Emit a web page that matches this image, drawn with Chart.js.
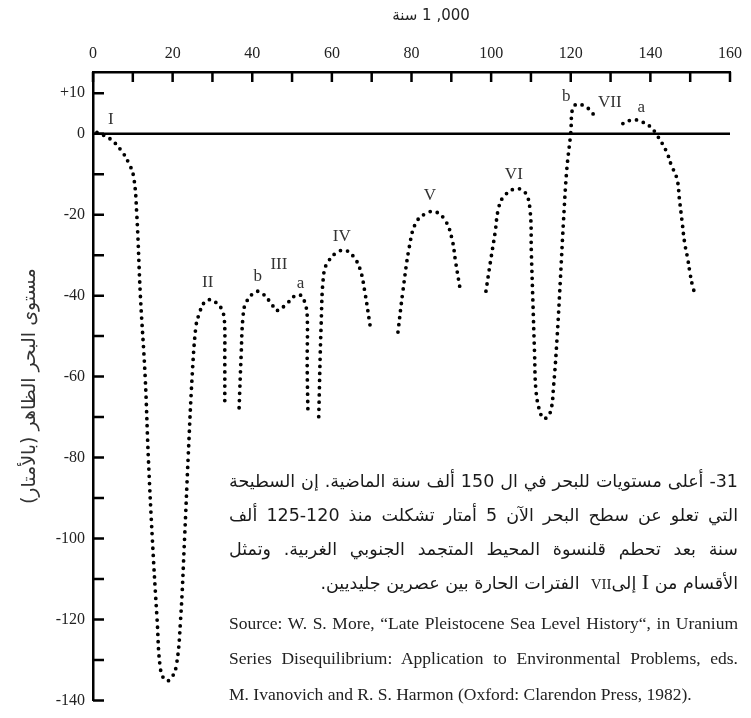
<!DOCTYPE html>
<html>
<head>
<meta charset="utf-8">
<script src="https://cdn.jsdelivr.net/npm/chart.js@4.4.0/dist/chart.umd.min.js"></script>
<style>
  body { margin: 0; background: #fff; }
  #wrap { position: relative; width: 751px; height: 718px; }
  canvas { position: absolute; left: 0; top: 0; }
  .ar { position: absolute; left: 229px; width: 509px; direction: rtl; white-space: nowrap;
        font: 17.5px "DejaVu Sans"; line-height: 22px; color: #1a1a1a; }
  .just { text-align: justify; text-align-last: justify; }
  .en { position: absolute; left: 229px; width: 509px; white-space: nowrap;
        font: 17.5px "Liberation Serif"; line-height: 20px; color: #222; }
  .serif { font-family: "Liberation Serif"; }
  #xtitle { position: absolute; left: 431px; top: 5px; transform: translateX(-50%);
            font: 15px "DejaVu Sans"; line-height: 20px; color: #222; white-space: nowrap; }
</style>
</head>
<body>
<div id="wrap">
  <canvas id="chart" width="751" height="718"></canvas>
  <div id="xtitle"><bdi>سنة</bdi> 1 ,000</div>
  <div class="ar just" style="top:470px">31- أعلى مستويات للبحر في ال 150 ألف سنة الماضية. إن السطيحة</div>
  <div class="ar just" style="top:504px">التي تعلو عن سطح البحر الآن 5 أمتار تشكلت منذ 120-125 ألف</div>
  <div class="ar just" style="top:538px">سنة بعد تحطم قلنسوة المحيط المتجمد الجنوبي الغربية. وتمثل</div>
  <div class="ar" style="top:571px">الأقسام من <span class="serif" style="font-size:22px">I</span> إلى<span class="serif" style="font-size:15px">VII</span>&nbsp; الفترات الحارة بين عصرين جليديين.</div>
  <div class="en just" style="top:613px">Source: W. S. More, “Late Pleistocene Sea Level History“, in Uranium</div>
  <div class="en just" style="top:648px">Series Disequilibrium: Application to Environmental Problems, eds.</div>
  <div class="en" style="top:684px">M. Ivanovich and R. S. Harmon (Oxford: Clarendon Press, 1982).</div>
</div>
<script>
// ticks that carry a label
const xTickLabels = [0, 20, 40, 60, 80, 100, 120, 140, 160];
const yTickLabels = [10, 0, -20, -40, -60, -80, -100, -120, -140];

// dotted curve pieces, [thousand years ago, metres]
const segI_II = [[1, 0.3], [4.2, -1.2], [6.9, -3.9], [8.9, -7.1], [10.2, -10.6], [11.0, -20],
  [11.9, -40], [13.1, -60], [13.9, -80], [14.9, -100], [16.1, -120], [17.0, -132.6],
  [18.3, -135.1], [19.5, -134.7], [20.9, -131.6], [22.0, -120], [23.0, -100], [23.9, -80],
  [24.9, -60], [25.8, -48], [26.5, -45], [28, -41.6], [29.5, -41], [31, -41.8],
  [32.3, -43.3], [33, -46], [33.1, -55], [33.1, -67.4]];
const segIII = [[36.7, -67.7], [37.2, -55], [37.7, -45], [38.5, -41.6], [41.0, -39], [42.7, -39.6],
  [44.9, -42.1], [46.1, -43.7], [48.9, -41.8], [50.1, -40.4], [52.2, -39.9], [53.2, -41.7],
  [53.8, -44.9], [53.8, -57.2], [54.0, -69.5]];
const segIV = [[56.7, -69.9], [57.3, -47.4], [58.0, -34.3], [59.2, -31.4], [61.3, -29.3], [63.4, -28.8],
  [65.4, -30.3], [67.1, -33.5], [68.3, -39.2], [69.6, -47.4]];
const segV = [[76.6, -49.0], [77.8, -39.2], [79.5, -27.7], [81.1, -22.0], [83.6, -19.7], [86.1, -19.3],
  [88.6, -21.6], [90.2, -26.1], [91.1, -31.8], [92.1, -37.7]];
const segVI_VII = [[98.7, -38.9], [99.8, -31.8], [101.0, -24.4], [101.8, -18.7], [103.1, -15.6],
  [106.1, -13.6], [108.6, -14.6], [109.8, -19.1], [110.1, -29.3], [110.5, -41.7], [110.9, -53.9],
  [111.3, -63.8], [112.4, -69.1], [113.4, -70.4], [114.9, -68.7], [115.7, -62.2], [116.6, -49.9],
  [117.4, -35.9], [118.2, -21.2], [119.0, -8.9], [120.0, 0.2], [120.5, 6.4], [121.7, 7.3],
  [123.3, 6.9], [125.0, 5.7], [126.1, 4.1]];
const segVIIa = [[133.1, 2.5], [134.9, 3.3], [136.6, 3.4], [138.2, 2.8], [139.9, 1.8], [141.3, 0.2],
  [144.0, -4.3], [145.2, -7.6], [146.7, -11.2], [147.3, -16.2], [148.0, -22], [148.6, -26.9],
  [149.4, -31], [150.0, -34.7], [150.6, -37.6], [151.4, -40.2]];
const zeroLineX = [0, 160];

// stage names and where they sit
const stageLabels = ['I', 'II', 'b', 'III', 'a', 'IV', 'V', 'VI', 'b', 'VII', 'a'];
const stageX = [4.5, 28.8, 41.4, 46.7, 52.1, 62.5, 84.6, 105.7, 118.9, 129.8, 137.7];
const stageY = [3.4, -36.7, -35.2, -32.2, -36.9, -25.3, -15.3, -10.1, 9.1, 7.6, 6.4];

const segments = [segI_II, segIII, segIV, segV, segVI_VII, segVIIa];
const datasets = segments.map(seg => ({
  data: seg.map(p => ({x: p[0], y: p[1]})),
  showLine: true,
  borderColor: '#000',
  borderWidth: 3.8,
  borderDash: [0, 7.2],
  borderCapStyle: 'round',
  pointRadius: 0,
  tension: 0.4
}));
datasets.push({
  data: zeroLineX.map(x => ({x, y: 0})),
  showLine: true,
  borderColor: '#000',
  borderWidth: 2.5,
  pointRadius: 0,
  tension: 0
});

const innerTicks = {
  id: 'innerTicks',
  afterDatasetsDraw(chart) {
    const {ctx, chartArea, scales: {x, y}} = chart;
    ctx.save();
    ctx.strokeStyle = '#000';
    ctx.lineWidth = 2.5;
    ctx.beginPath();
    x.ticks.forEach(t => {
      if (Math.round(t.value) % 10 !== 0) return;
      const px = x.getPixelForValue(t.value);
      ctx.moveTo(px, chartArea.top);
      ctx.lineTo(px, chartArea.top + 10);
    });
    y.ticks.forEach(t => {
      if (Math.round(t.value) % 10 !== 0) return;
      const py = y.getPixelForValue(t.value);
      ctx.moveTo(chartArea.left, py);
      ctx.lineTo(chartArea.left + 11, py);
    });
    ctx.stroke();

    ctx.fillStyle = '#333';
    ctx.font = '17px "Liberation Serif"';
    ctx.textAlign = 'center';
    ctx.textBaseline = 'middle';
    stageLabels.forEach((txt, i) => {
      ctx.fillText(txt, x.getPixelForValue(stageX[i]), y.getPixelForValue(stageY[i]));
    });
    ctx.restore();
  }
};

new Chart(document.getElementById('chart'), {
  type: 'scatter',
  data: { datasets },
  options: {
    responsive: false,
    animation: false,
    layout: { padding: { left: 0, top: 0, right: 13, bottom: 15 } },
    plugins: { legend: { display: false }, tooltip: { enabled: false } },
    scales: {
      x: {
        type: 'linear',
        position: 'top',
        min: 0,
        max: 160,
        grid: { display: false, drawTicks: false },
        border: { display: true, color: '#000', width: 2.5 },
        ticks: {
          stepSize: 10,
          autoSkip: false,
          maxRotation: 0,
          padding: 9,
          color: '#222',
          font: { family: 'Liberation Serif', size: 16 },
          callback: v => xTickLabels.includes(Math.round(v)) ? String(Math.round(v)) : ''
        },
        afterFit: s => { s.height = 72; }
      },
      y: {
        type: 'linear',
        position: 'left',
        min: -140,
        max: 15.25,
        grid: { display: false, drawTicks: false },
        border: { display: true, color: '#000', width: 2.5 },
        title: {
          display: true,
          text: 'مستوى البحر الظاهر (بالأمتار)\u200F',
          color: '#333',
          font: { family: 'DejaVu Sans', size: 19 },
          padding: { top: 19, bottom: 0 }
        },
        ticks: {
          stepSize: 10,
          includeBounds: false,
          autoSkip: false,
          padding: 8,
          color: '#222',
          font: { family: 'Liberation Serif', size: 16 },
          callback: v => {
            const r = Math.round(v);
            if (!yTickLabels.includes(r)) return '';
            return r > 0 ? '+' + r : String(r);
          }
        },
        afterFit: s => { s.width = 93; }
      }
    }
  },
  plugins: [innerTicks]
});
</script>
</body>
</html>
